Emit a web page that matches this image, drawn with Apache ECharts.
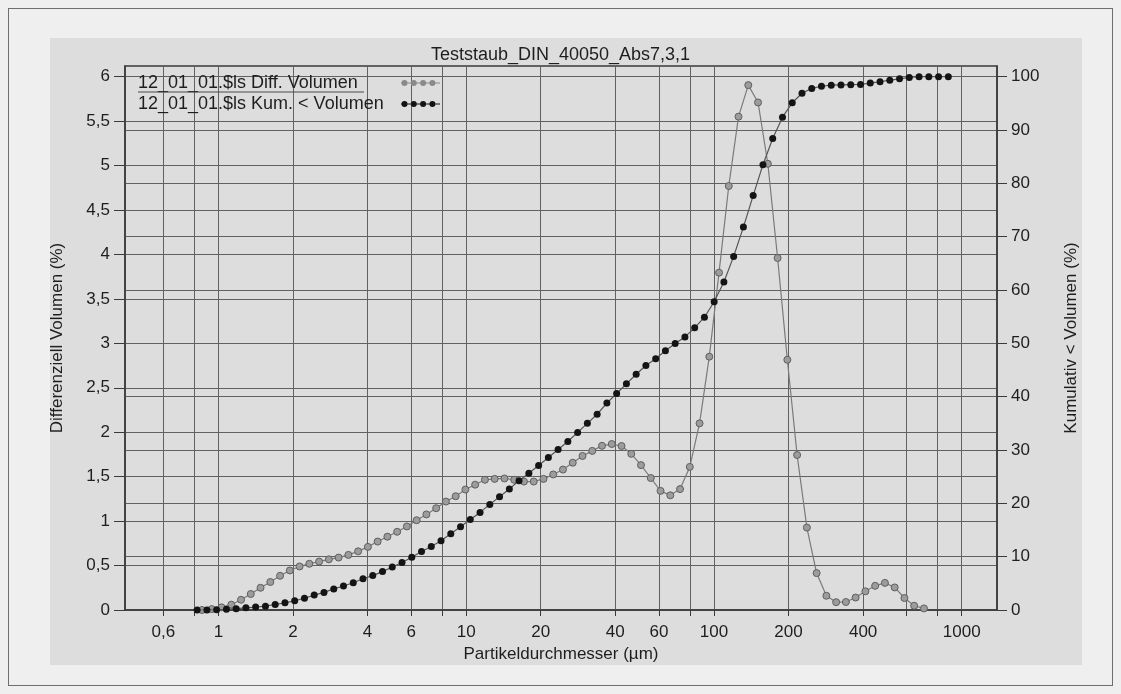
<!DOCTYPE html>
<html>
<head>
<meta charset="utf-8">
<script src="https://cdn.jsdelivr.net/npm/echarts@6/dist/echarts.min.js"></script>
<style>
  html, body { margin: 0; padding: 0; background: #efefef; }
  #frame { position: absolute; left: 8px; top: 8px; width: 1105px; height: 678px; border: 1px solid #6e6e6e; box-sizing: border-box; }
  #panel { position: absolute; left: 50px; top: 38px; width: 1032px; height: 627px; background: #dddddd; }
  #chart { position: absolute; left: 0; top: 0; width: 1121px; height: 694px; }
</style>
</head>
<body>
<div id="frame"></div>
<div id="panel"></div>
<div id="chart"></div>
<script>
// channel sizes in µm (cumulative points sit on these, differential points between two of them)
var diameters = [0.821, 0.899, 0.984, 1.078, 1.180, 1.292, 1.414, 1.549, 1.696, 1.857,
  2.033, 2.226, 2.437, 2.669, 2.922, 3.199, 3.503, 3.835, 4.199, 4.597,
  5.034, 5.511, 6.034, 6.606, 7.233, 7.919, 8.670, 9.493, 10.39, 11.38,
  12.46, 13.64, 14.94, 16.35, 17.91, 19.61, 21.47, 23.50, 25.73, 28.18,
  30.85, 33.78, 36.98, 40.49, 44.34, 48.54, 53.14, 58.19, 63.71, 69.75,
  76.37, 83.62, 91.55, 100.2, 109.7, 120.1, 131.5, 144.0, 157.7, 172.7,
  189.1, 207.0, 226.7, 248.2, 271.7, 297.5, 325.7, 356.6, 390.5, 427.5,
  468.1, 512.6, 561.2, 614.4, 672.8, 736.6, 806.5, 883.0];

// Kumulativ < Volumen (%)
var kumVolume = [0, 0.02, 0.05, 0.12, 0.25, 0.4, 0.55, 0.72, 1.03, 1.34,
  1.74, 2.2, 2.8, 3.3, 3.95, 4.5, 5.1, 5.86, 6.45, 7.2,
  8.05, 8.9, 9.9, 10.97, 11.9, 13.0, 14.3, 15.6, 16.95, 18.3,
  19.8, 21.25, 22.7, 24.25, 25.65, 27.1, 28.6, 30.1, 31.6, 33.3,
  35.0, 36.7, 38.8, 40.6, 42.4, 44.2, 45.85, 47.1, 48.6, 49.95,
  51.2, 52.9, 54.9, 57.8, 61.5, 66.3, 71.8, 77.7, 83.5, 88.4,
  92.4, 95.1, 96.9, 97.8, 98.2, 98.4, 98.45, 98.5, 98.55, 98.8,
  99.05, 99.35, 99.6, 99.85, 100, 100, 100, 100];

// Differenziell Volumen (%)
var diffVolume = [0, 0.01, 0.03, 0.06, 0.115, 0.18, 0.25, 0.315, 0.385, 0.445,
  0.49, 0.52, 0.545, 0.57, 0.59, 0.62, 0.66, 0.71, 0.77, 0.825,
  0.88, 0.94, 1.01, 1.075, 1.145, 1.22, 1.28, 1.355, 1.41, 1.465,
  1.475, 1.48, 1.465, 1.445, 1.445, 1.475, 1.525, 1.58, 1.657, 1.733,
  1.79, 1.847, 1.867, 1.845, 1.757, 1.63, 1.485, 1.34, 1.29, 1.36,
  1.61, 2.1, 2.85, 3.795, 4.77, 5.55, 5.905, 5.71, 5.02, 3.96,
  2.815, 1.744, 0.927, 0.415, 0.16, 0.088, 0.09, 0.14, 0.21, 0.272,
  0.305, 0.254, 0.135, 0.048, 0.018];

var gridDiameters = [0.6, 0.8, 1, 2, 4, 6, 8, 10, 20, 40, 60, 80, 100, 200, 400, 600, 800, 1000];
var labelDiameters = [0.6, 1, 2, 4, 6, 10, 20, 40, 60, 100, 200, 400, 1000];
var diffTicks = [0, 0.5, 1, 1.5, 2, 2.5, 3, 3.5, 4, 4.5, 5, 5.5, 6];
var kumTicks = [0, 10, 20, 30, 40, 50, 60, 70, 80, 90, 100];
var xRange = [0.42, 1388];

var diffName = '12_01_01.$ls Diff. Volumen';
var kumName = '12_01_01.$ls Kum. < Volumen';

var lg = function (v) { return Math.log10(v); };
var comma = function (v) { return String(v).replace('.', ','); };

var diffPoints = diffVolume.map(function (v, i) {
  return [lg(Math.sqrt(diameters[i] * diameters[i + 1])), v];
});
var kumPoints = kumVolume.map(function (v, i) {
  return [lg(diameters[i]), v];
});

// four dots on a line, like the original legend sample
var dotsIcon = 'path://M0,3.6L39,3.6L39,4.4L0,4.4Z' +
  'M0.5,4a3,3 0 1,1 6,0a3,3 0 1,1 -6,0Z' +
  'M9.8,4a3,3 0 1,1 6,0a3,3 0 1,1 -6,0Z' +
  'M19.1,4a3,3 0 1,1 6,0a3,3 0 1,1 -6,0Z' +
  'M28.4,4a3,3 0 1,1 6,0a3,3 0 1,1 -6,0Z';

var font = 'Liberation Sans';
var ink = '#1e1e1e';
var axisInk = '#3a3a3a';
var gridColor = '#616161';

var chart = echarts.init(document.getElementById('chart'));
chart.setOption({
  animation: false,
  backgroundColor: 'transparent',
  textStyle: { fontFamily: font, color: ink },
  title: {
    text: 'Teststaub_DIN_40050_Abs7,3,1',
    left: 'center',
    top: 41,
    textStyle: { fontFamily: font, fontSize: 18, fontWeight: 'normal', color: ink }
  },
  legend: {
    orient: 'vertical',
    left: 138,
    top: 74,
    padding: 0,
    align: 'right',
    itemGap: 3,
    itemWidth: 39,
    itemHeight: 6,
    icon: dotsIcon,
    formatter: function (name) { return '{t|' + name + '}'; },
    textStyle: {
      fontFamily: font, fontSize: 18, color: ink,
      rich: { t: { width: 258, lineHeight: 19, align: 'left', fontFamily: font, fontSize: 18, color: ink } }
    },
    data: [
      { name: diffName, itemStyle: { color: '#8a8a8a', borderWidth: 0 } },
      { name: kumName, itemStyle: { color: '#141414', borderWidth: 0 } }
    ]
  },
  graphic: [{
    type: 'line',
    shape: { x1: 138, y1: 92, x2: 364, y2: 92 },
    style: { stroke: '#4a4a4a', lineWidth: 1 },
    z: 10
  }],
  grid: {
    left: 125, right: 124, top: 66, bottom: 84,
    show: true, borderColor: axisInk, borderWidth: 1.5
  },
  xAxis: {
    type: 'value',
    min: lg(xRange[0]),
    max: lg(xRange[1]),
    name: 'Partikeldurchmesser (µm)',
    nameLocation: 'middle',
    nameGap: 36,
    nameTextStyle: { fontFamily: font, fontSize: 17, color: ink },
    axisLine: { onZero: false, lineStyle: { color: axisInk, width: 1.5 } },
    axisTick: { customValues: gridDiameters.map(lg), length: 6, lineStyle: { color: axisInk } },
    axisLabel: {
      customValues: labelDiameters.map(lg),
      margin: 14,
      fontFamily: font, fontSize: 17, color: ink,
      formatter: function (v) { return comma(+Math.pow(10, v).toPrecision(4)); }
    },
    splitLine: { show: true, lineStyle: { color: gridColor, width: 1 } }
  },
  yAxis: [{
    type: 'value',
    min: 0,
    max: 6.12,
    name: 'Differenziell Volumen (%)',
    nameLocation: 'middle',
    nameGap: 59,
    nameTextStyle: { fontFamily: font, fontSize: 17, color: ink },
    axisLine: { show: true, onZero: false, lineStyle: { color: axisInk, width: 1.5 } },
    axisTick: { show: true, customValues: diffTicks, length: 11, lineStyle: { color: axisInk } },
    axisLabel: {
      customValues: diffTicks, margin: 15,
      fontFamily: font, fontSize: 17, color: ink,
      formatter: comma
    },
    splitLine: { show: true, lineStyle: { color: gridColor, width: 1 } }
  }, {
    type: 'value',
    min: 0,
    max: 102,
    position: 'right',
    name: 'Kumulativ < Volumen (%)',
    nameLocation: 'middle',
    nameGap: 66,
    nameRotate: 90,
    nameTextStyle: { fontFamily: font, fontSize: 17, color: ink },
    axisLine: { show: true, onZero: false, lineStyle: { color: axisInk, width: 1.5 } },
    axisTick: { show: true, customValues: kumTicks, length: 10, lineStyle: { color: axisInk } },
    axisLabel: {
      customValues: kumTicks, margin: 14,
      fontFamily: font, fontSize: 17, color: ink
    },
    splitLine: { show: true, lineStyle: { color: gridColor, width: 1 } }
  }],
  series: [{
    name: diffName,
    type: 'line',
    yAxisIndex: 0,
    data: diffPoints,
    symbol: 'circle',
    symbolSize: 7,
    itemStyle: { color: '#9c9c9c', borderColor: '#5e5e5e', borderWidth: 1 },
    lineStyle: { color: '#7a7a7a', width: 1.2 },
    z: 3
  }, {
    name: kumName,
    type: 'line',
    yAxisIndex: 1,
    data: kumPoints,
    symbol: 'circle',
    symbolSize: 7,
    itemStyle: { color: '#141414', borderWidth: 0 },
    lineStyle: { color: '#555555', width: 1.2 },
    z: 4
  }]
});
</script>
</body>
</html>
